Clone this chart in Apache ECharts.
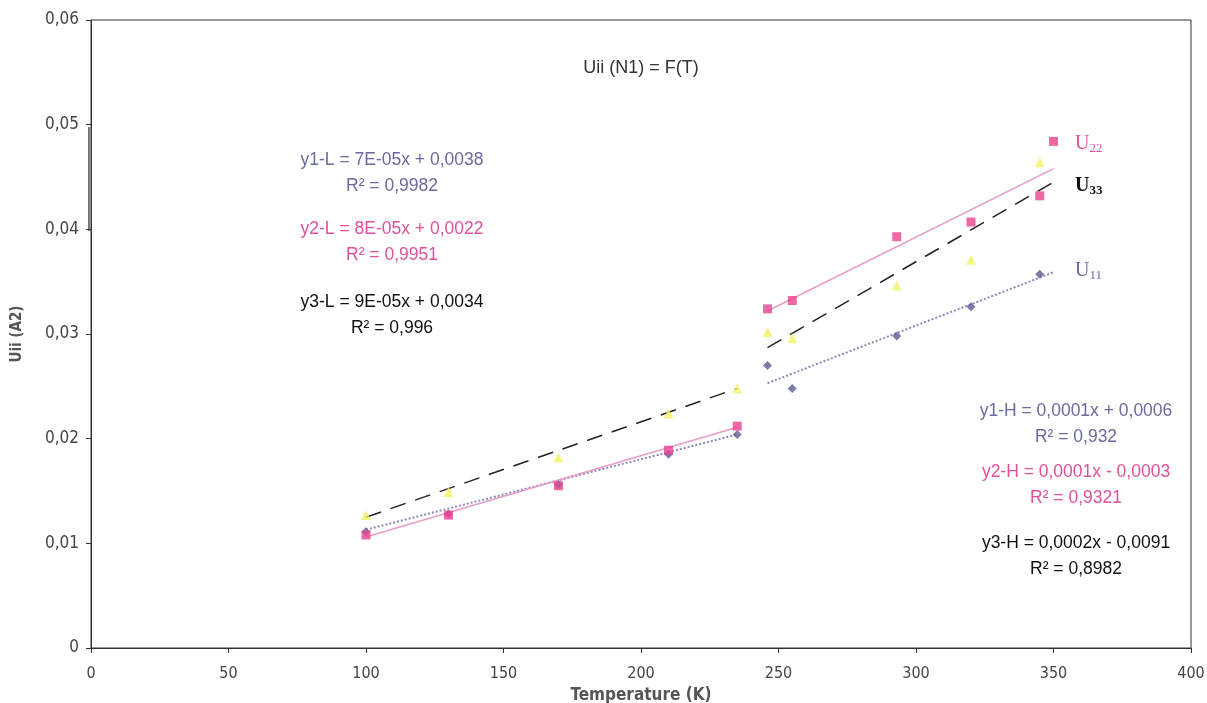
<!DOCTYPE html>
<html>
<head>
<meta charset="utf-8">
<script src="https://cdn.jsdelivr.net/npm/echarts@6/dist/echarts.min.js"></script>
<style>html,body{margin:0;padding:0;background:#fff}#c{width:1207px;height:703px}</style>
</head>
<body>
<div id="c"></div>
<script>
// ---- data ----
const tempLow = [100, 130, 170, 210, 235];
const u11Low = [0.0111, 0.0128, 0.0156, 0.0185, 0.0204];
const u22Low = [0.0108, 0.0127, 0.0155, 0.0189, 0.0212];
const u33Low = [0.0127, 0.0149, 0.0182, 0.0224, 0.0248];

const tempHigh = [246, 255, 293, 320, 345];
const u11High = [0.0270, 0.0248, 0.0298, 0.0326, 0.0357];
const u22High = [0.0324, 0.0332, 0.0393, 0.0407, 0.0432];
const u33High = [0.0302, 0.0296, 0.0346, 0.0371, 0.0464];
const u22Extra = [[350, 0.0484]];

// trend line end points (as drawn)
const fitLowT = [100, 235];
const fit1Low = [0.0113, 0.0204];
const fit2Low = [0.0106, 0.0211];
const fit3Low = [0.0125, 0.0248];
const fitHighT = [246, 350];
const fit1High = [0.0253, 0.0359];
const fit2High = [0.0322, 0.0458];
const fit3High = [0.0287, 0.0445];

const xTicks = [0, 50, 100, 150, 200, 250, 300, 350, 400];
const yTicks = [0, 0.01, 0.02, 0.03, 0.04, 0.05, 0.06];

const eqLow = [
  ['y1-L = 7E-05x + 0,0038', 'R² = 0,9982'],
  ['y2-L = 8E-05x + 0,0022', 'R² = 0,9951'],
  ['y3-L = 9E-05x + 0,0034', 'R² = 0,996']
];
const eqHigh = [
  ['y1-H = 0,0001x + 0,0006', 'R² = 0,932'],
  ['y2-H = 0,0001x - 0,0003', 'R² = 0,9321'],
  ['y3-H = 0,0002x - 0,0091', 'R² = 0,8982']
];

const zip = (xs, ys) => xs.map((x, i) => [x, ys[i]]);

const C1 = '#5b5b8f', C2 = '#e8448f', C3 = '#f2f266';
const T1 = '#6a6aa0', T2 = '#e0509c', T3 = '#111';
const font = '"Liberation Sans", Arial, sans-serif';
const narrow = '"Liberation Sans Narrow", "DejaVu Sans Condensed", sans-serif';

function scatter(name, data, symbol, color, size) {
  return { name, type: 'scatter', data, symbol, symbolSize: size,
    itemStyle: { color }, z: 5, silent: true };
}
function fit(data, color, type, width) {
  return { type: 'line', data, showSymbol: false, silent: true, z: 3,
    lineStyle: { color, type, width } };
}

const chart = echarts.init(document.getElementById('c'), null, { renderer: 'canvas' });

const eqColors = [T1, T2, T3];
const graphics = [];
const lowY = [173, 242, 315];
const highY = [424, 485, 556];
eqLow.forEach((e, i) => {
  graphics.push({ type: 'text', x: 392, y: lowY[i], style: { text: e[0] + '\n' + e[1], fill: eqColors[i], font: '17.5px ' + font, align: 'center', verticalAlign: 'middle', lineHeight: 26 } });
});
eqHigh.forEach((e, i) => {
  graphics.push({ type: 'text', x: 1076, y: highY[i], style: { text: e[0] + '\n' + e[1], fill: eqColors[i], font: '17.5px ' + font, align: 'center', verticalAlign: 'middle', lineHeight: 26 } });
});

const serif = '"Liberation Serif", "DejaVu Serif", serif';
function ulabel(sub, color, y, bold) {
  return { type: 'text', x: 1075, y, style: {
    text: '{a|U}{b|' + sub + '}', verticalAlign: 'middle',
    rich: {
      a: { fontFamily: serif, fontSize: 20, fill: color, fontWeight: bold ? 'bold' : 'normal' },
      b: { fontFamily: serif, fontSize: 13, fill: color, fontWeight: bold ? 'bold' : 'normal', padding: [10, 0, 0, 0] }
    } } };
}
graphics.push(ulabel('22', T2, 144, false));
graphics.push(ulabel('33', '#111', 186, true));
graphics.push(ulabel('11', T1, 271, false));
graphics.push({ type: 'text', x: 641, y: 68, style: { text: 'Uii (N1) = F(T)', fill: '#333', font: '18px ' + font, align: 'center', verticalAlign: 'middle' } });
// scan artefact: darker segment along the y axis
graphics.push({ type: 'rect', shape: { x: 88, y: 127, width: 2, height: 104 }, style: { fill: '#777' }, silent: true });

chart.setOption({
  animation: false,
  backgroundColor: '#fff',
  grid: { left: 91, right: 16, top: 20, bottom: 55, show: true, borderColor: '#333', borderWidth: 1, containLabel: false, outerBoundsMode: 'none' },
  xAxis: {
    type: 'value', min: 0, max: 400, interval: 50,
    name: 'Temperature (K)', nameLocation: 'middle', nameGap: 37,
    nameTextStyle: { fontFamily: narrow, fontSize: 17, fontWeight: 'bold', color: '#555' },
    axisLine: { lineStyle: { color: '#333' } },
    axisTick: { show: true, length: 5, lineStyle: { color: '#333' } },
    axisLabel: { fontFamily: narrow, fontSize: 16, color: '#444', margin: 18, formatter: v => xTicks.includes(v) ? String(v) : '' },
    splitLine: { show: false }
  },
  yAxis: {
    type: 'value', min: 0, max: 0.06, interval: 0.01,
    name: 'Uii (A2)', nameLocation: 'middle', nameGap: 66, nameRotate: 90,
    nameTextStyle: { fontFamily: narrow, fontSize: 15, fontWeight: 'bold', color: '#555' },
    axisLine: { show: true, lineStyle: { color: '#333' } },
    axisTick: { show: true, length: 5, lineStyle: { color: '#333' } },
    axisLabel: { fontFamily: narrow, fontSize: 17, color: '#444', margin: 12,
      formatter: v => { const t = yTicks.find(k => Math.abs(k - v) < 1e-9); return t === undefined ? '' : (t === 0 ? '0' : t.toFixed(2).replace('.', ',')); } },
    splitLine: { show: false }
  },
  series: [
    fit(zip(fitLowT, fit1Low), '#8a8ab8', 'dotted', 2),
    fit(zip(fitLowT, fit2Low), '#e99cc6', 'solid', 1.6),
    fit(zip(fitLowT, fit3Low), '#222', [16, 10], 1.5),
    fit(zip(fitHighT, fit1High), '#8a8ab8', 'dotted', 2),
    fit(zip(fitHighT, fit2High), '#e99cc6', 'solid', 1.6),
    fit(zip(fitHighT, fit3High), '#222', [16, 10], 1.5),
    scatter('U33', zip(tempLow, u33Low).concat(zip(tempHigh, u33High)), 'triangle', C3, 10),
    scatter('U11', zip(tempLow, u11Low).concat(zip(tempHigh, u11High)), 'diamond', C1, 9),
    scatter('U22', zip(tempLow, u22Low).concat(zip(tempHigh, u22High)).concat(u22Extra), 'rect', C2, 9)
  ],
  graphic: graphics
});
</script>
</body>
</html>
